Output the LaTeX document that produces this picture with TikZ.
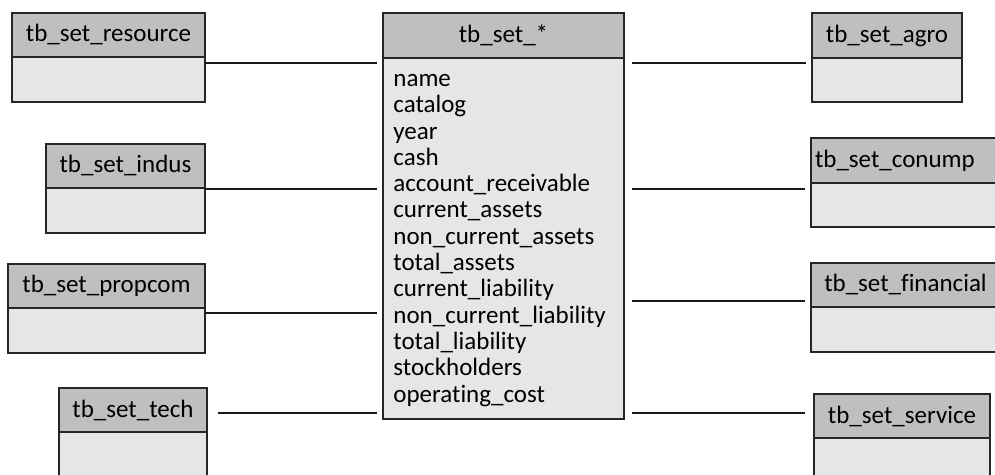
\documentclass[tikz,border=0pt]{standalone}
\usepackage{fontspec}
\setmainfont{Carlito}[RawFeature={-liga,-clig}]
\usetikzlibrary{positioning}
\definecolor{hdrgray}{RGB}{191,191,191}
\definecolor{bodygray}{RGB}{230,230,230}
\newcommand\tbfont{\fontsize{12.5pt}{15pt}\selectfont}
\tikzset{
  hdr/.style={draw=black!85, fill=hdrgray, line width=1pt, inner sep=0pt, outer sep=0pt, minimum height=22pt, font=\tbfont},
  bdy/.style={draw=black!85, fill=bodygray, line width=1pt, inner sep=0pt, outer sep=0pt, minimum height=22.5pt},
  attr/.style={anchor=base west, inner sep=0pt, font=\tbfont},
  link/.style={draw=black!90, line width=0.7pt}
}
\begin{document}
\begin{tikzpicture}[x=0.5pt, y=-0.5pt]
  \clip (0,0) rectangle (995,475);
  % left tables
  \node[hdr, minimum width=96.5pt] (res) at (108.5,35) {tb\_set\_resource};
  \node[bdy, minimum width=96.5pt, below=0pt of res] (resb) {};
  \node[hdr, minimum width=79.5pt] (indus) at (125.5,166) {tb\_set\_indus};
  \node[bdy, minimum width=79.5pt, below=0pt of indus] (indusb) {};
  \node[hdr, minimum width=98.5pt] (prop) at (106.5,286) {tb\_set\_propcom};
  \node[bdy, minimum width=98.5pt, below=0pt of prop] (propb) {};
  \node[hdr, minimum width=74pt] (tech) at (133,410) {tb\_set\_tech};
  \node[bdy, minimum width=74pt, minimum height=25pt, below=0pt of tech] (techb) {};
  % main table
  \node[hdr, minimum width=120.5pt, minimum height=22.5pt] (main) at (503.5,35.5) {tb\_set\_*};
  \node[bdy, minimum width=120.5pt, minimum height=180.5pt, below=0pt of main] (mainb) {};
  \node[attr] (a1) at (393,86.5) {name};
  \node[attr] (a2) at (393,112.8) {catalog};
  \node[attr] (a3) at (393,139.1) {year};
  \node[attr] (a4) at (393,165.4) {cash};
  \node[attr] (a5) at (393,191.7) {account\_receivable};
  \node[attr] (a6) at (393,218) {current\_assets};
  \node[attr] (a7) at (393,244.3) {non\_current\_assets};
  \node[attr] (a8) at (393,270.6) {total\_assets};
  \node[attr] (a9) at (393,296.9) {current\_liability};
  \node[attr] (a10) at (393,323.2) {non\_current\_liability};
  \node[attr] (a11) at (393,349.5) {total\_liability};
  \node[attr] (a12) at (393,375.8) {stockholders};
  \node[attr] (a13) at (393,402.1) {operating\_cost};
  % right tables
  \node[hdr, minimum width=75pt, minimum height=22.5pt] (agro) at (887,35.5) {tb\_set\_agro};
  \node[bdy, minimum width=75pt, minimum height=22pt, below=0pt of agro] (agrob) {};
  \node[hdr, text width=93pt, align=left, inner xsep=2pt, minimum height=22.5pt] (conump) at (908,160.5) {tb\_set\_conump};
  \node[bdy, minimum width=97pt, minimum height=22pt, below=0pt of conump] (conumpb) {};
  \node[hdr, minimum width=94.5pt] (fin) at (905.5,285) {tb\_set\_financial};
  \node[bdy, minimum width=94.5pt, below=0pt of fin] (finb) {};
  \node[hdr, minimum width=88pt] (serv) at (902,416) {tb\_set\_service};
  \node[bdy, minimum width=88pt, minimum height=25pt, below=0pt of serv] (servb) {};
  % connectors
  \coordinate (ya) at (0,63);
  \coordinate (yb) at (0,189);
  \coordinate (yc) at (0,313);
  \coordinate (yd) at (0,413);
  \coordinate (ye) at (0,301);
  \draw[link, shorten >=3pt] (resb.east |- ya) -- (mainb.west |- ya);
  \draw[link, shorten >=3pt] (indusb.east |- yb) -- (mainb.west |- yb);
  \draw[link, shorten >=3pt] (propb.east |- yc) -- (mainb.west |- yc);
  \draw[link, shorten <=5.5pt, shorten >=3pt] (tech.east |- yd) -- (mainb.west |- yd);
  \draw[link, shorten <=4pt, shorten >=3pt] (mainb.east |- ya) -- (agrob.west |- ya);
  \draw[link, shorten <=4pt, shorten >=3pt] (mainb.east |- yb) -- (conump.west |- yb);
  \draw[link, shorten <=4pt, shorten >=3pt] (mainb.east |- ye) -- (fin.west |- ye);
  \draw[link, shorten <=4pt, shorten >=4.5pt] (mainb.east |- yd) -- (serv.west |- yd);
\end{tikzpicture}
\end{document}
